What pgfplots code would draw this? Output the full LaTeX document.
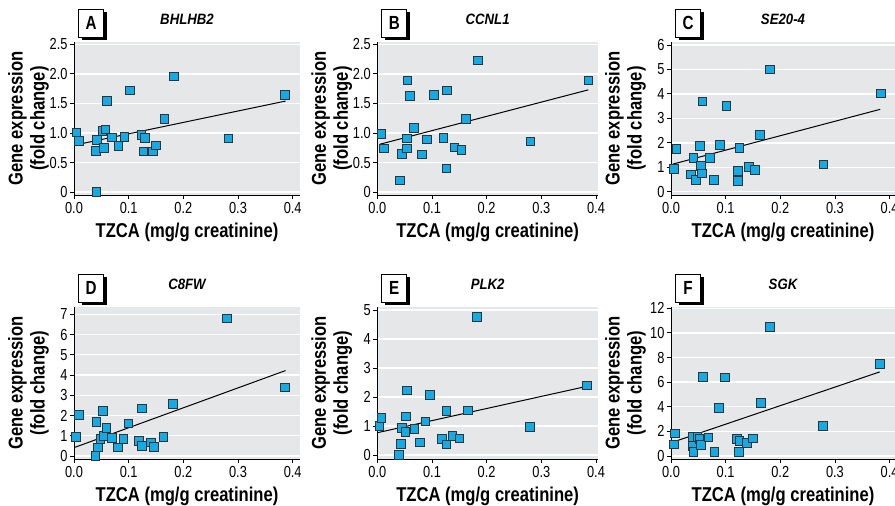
\documentclass[border=0pt]{standalone}
\usepackage{fontspec}
\setmainfont{Liberation Sans}
\newfontfamily\condfont[FakeStretch=0.83]{Liberation Sans}
\newfontfamily\tickfont[FakeStretch=0.8]{Liberation Sans}
\newfontfamily\titlefont[FakeStretch=0.88]{Liberation Sans}
\usepackage{pgfplots}
\pgfplotsset{compat=1.18}
\definecolor{ptc}{RGB}{20,170,230}
\definecolor{bgc}{RGB}{230,231,232}
\pgfplotsset{
  panel/.style={
    scale only axis, anchor=south west, clip=false,
    xmin=0, xtick={0,0.1,0.2,0.3,0.4}, xticklabels={0.0,0.1,0.2,0.3,0.4},
    axis x line*=bottom, axis y line*=left,
    axis background/.style={fill=bgc},
    ymajorgrids, grid style={white, line width=1.3pt},
    axis line style={black, line width=0.8pt},
    tick align=outside, major tick length=4pt,
    tick style={black, line width=0.8pt},
    ticklabel style={font=\tickfont\fontsize{16}{16}\selectfont},
    yticklabel style={xshift=1pt},
    /pgf/number format/assume math mode=true,
    xlabel={TZCA (mg/g creatinine)},
    xlabel style={font=\condfont\bfseries\fontsize{20}{22}\selectfont, at={([yshift=-37pt]axis description cs:0.5,0)}, anchor=center},
    ylabel={Gene expression\\(fold change)},
    ylabel style={font=\condfont\bfseries\fontsize{20}{22}\selectfont, align=center, at={([xshift=-45.5pt]axis description cs:0,0.5)}, anchor=center},
    title style={font=\titlefont\bfseries\itshape\fontsize{15}{15}\selectfont, at={([yshift=17pt]axis description cs:0.5,1)}, anchor=center},
  },
  pts/.style={only marks, mark=square*, mark size=4.3pt, mark options={fill=ptc, draw=black!80, line width=0.6pt}},
  fit/.style={black, line width=1pt, no marks},
}
\newcommand{\letterbox}[1]{%
  \node[fill=black, minimum width=25pt, minimum height=28pt, inner sep=0pt] at ([xshift=20pt,yshift=15.7pt]rel axis cs:0,1) {};
  \node[fill=white, draw=black, line width=0.8pt, minimum width=25pt, minimum height=28pt, inner sep=0pt, font=\tickfont\bfseries\fontsize{19}{19}\selectfont] at ([xshift=17pt,yshift=18.7pt]rel axis cs:0,1) {#1};
}
\begin{document}
\begin{tikzpicture}
\path[use as bounding box] (0,0) rectangle (895pt,506pt);
% A
\begin{axis}[panel, at={(74pt,311pt)}, width=226pt, height=153pt, xmax=0.4134, ymin=-0.05, ymax=2.54,
  ytick={0,0.5,1,1.5,2,2.5}, yticklabels={0,0.5,1.0,1.5,2.0,2.5}, title={BHLHB2}]
\addplot[fit] coordinates {(0.004,0.80) (0.387,1.54)};
\addplot[pts] table {
x y
0.004 1.01
0.009 0.87
0.042 0.88
0.040 0.70
0.041 0.00
0.052 1.04
0.057 1.06
0.055 0.75
0.060 1.54
0.069 0.93
0.081 0.78
0.092 0.94
0.102 1.72
0.123 0.97
0.130 0.92
0.127 0.69
0.144 0.69
0.150 0.79
0.165 1.24
0.183 1.96
0.282 0.91
0.386 1.65
};
\letterbox{A}
\end{axis}
% B
\begin{axis}[panel, at={(377.3pt,311pt)}, width=220.7pt, height=153pt, xmax=0.4037, ymin=-0.05, ymax=2.54,
  ytick={0,0.5,1,1.5,2,2.5}, yticklabels={0,0.5,1.0,1.5,2.0,2.5}, title={CCNL1}]
\addplot[fit] coordinates {(0.005,0.81) (0.386,1.73)};
\addplot[pts] table {
x y
0.007 0.99
0.012 0.74
0.041 0.20
0.045 0.65
0.054 0.74
0.054 0.91
0.055 1.89
0.059 1.63
0.067 1.09
0.081 0.64
0.090 0.89
0.103 1.65
0.121 0.92
0.127 1.72
0.126 0.40
0.141 0.76
0.154 0.72
0.162 1.24
0.184 2.23
0.280 0.86
0.386 1.89
};
\letterbox{B}
\end{axis}
% C
\begin{axis}[panel, at={(671pt,311pt)}, width=224pt, height=153pt, xmax=0.41, ymin=-0.13, ymax=6.12,
  ytick={0,1,2,3,4,5,6}, title={SE20-4}]
\addplot[fit] coordinates {(0.003,1.13) (0.383,3.37)};
\addplot[pts] table {
x y
0.005 0.95
0.010 1.75
0.036 0.72
0.041 1.40
0.045 0.48
0.053 1.88
0.055 1.06
0.056 0.76
0.057 3.70
0.071 1.40
0.078 0.48
0.089 1.92
0.101 3.51
0.122 0.86
0.122 0.44
0.125 1.80
0.142 1.02
0.153 0.89
0.162 2.32
0.181 5.01
0.279 1.13
0.384 4.02
};
\letterbox{C}
\end{axis}
% D
\begin{axis}[panel, at={(74pt,47pt)}, width=226pt, height=152pt, xmax=0.4134, ymin=-0.15, ymax=7.36,
  ytick={0,1,2,3,4,5,6,7}, title={C8FW}]
\addplot[fit] coordinates {(0.002,0.43) (0.387,4.22)};
\addplot[pts] table {
x y
0.003 0.96
0.009 2.03
0.039 0.00
0.041 1.70
0.044 0.43
0.048 0.84
0.053 2.22
0.054 0.99
0.059 1.40
0.069 0.91
0.080 0.43
0.090 0.84
0.099 1.61
0.118 0.74
0.124 0.51
0.124 2.36
0.140 0.68
0.146 0.46
0.163 0.96
0.181 2.57
0.279 6.80
0.386 3.39
};
\letterbox{D}
\end{axis}
% E
\begin{axis}[panel, at={(377.3pt,47pt)}, width=220.7pt, height=152pt, xmax=0.4037, ymin=-0.14, ymax=5.1,
  ytick={0,1,2,3,4,5}, title={PLK2}]
\addplot[fit] coordinates {(0.001,0.77) (0.382,2.36)};
\addplot[pts] table {
x y
0.004 1.00
0.007 1.28
0.039 0.00
0.043 0.39
0.045 0.94
0.051 0.80
0.052 1.33
0.054 2.23
0.068 0.91
0.078 0.43
0.088 1.16
0.096 2.07
0.118 0.56
0.126 1.52
0.126 0.36
0.137 0.67
0.150 0.57
0.166 1.54
0.182 4.77
0.279 0.98
0.383 2.40
};
\letterbox{E}
\end{axis}
% F
\begin{axis}[panel, at={(671pt,47pt)}, width=224pt, height=152pt, xmax=0.41, ymin=-0.24, ymax=12.1,
  ytick={0,2,4,6,8,10,12}, title={SGK}]
\addplot[fit] coordinates {(0.002,1.11) (0.382,6.83)};
\addplot[pts] table {
x y
0.005 0.95
0.007 1.84
0.039 1.57
0.040 0.84
0.041 0.33
0.048 1.57
0.052 1.38
0.055 0.89
0.058 6.45
0.068 1.52
0.079 0.35
0.088 3.93
0.099 6.40
0.120 1.41
0.125 1.25
0.124 0.33
0.139 1.08
0.150 1.44
0.164 4.31
0.181 10.51
0.278 2.47
0.382 7.48
};
\letterbox{F}
\end{axis}
\end{tikzpicture}
\end{document}
